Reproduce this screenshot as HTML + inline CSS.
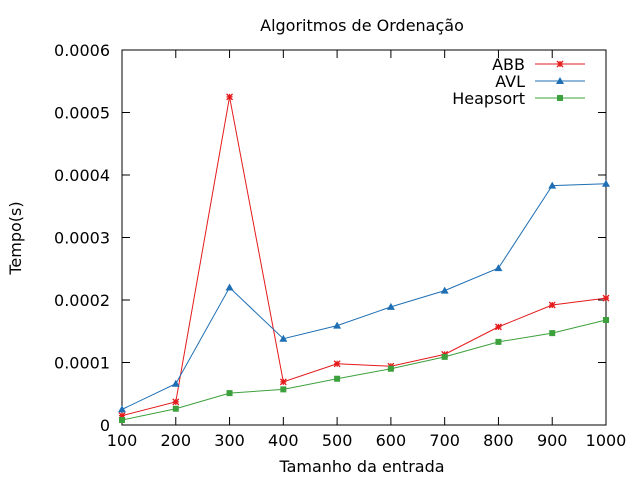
<!DOCTYPE html>
<html><head><meta charset="utf-8"><style>
body{margin:0;background:#fff}
svg{display:block;font-family:"DejaVu Sans","Liberation Sans",sans-serif}
</style></head><body>
<svg id="chart" width="640" height="480">
<text x="362" y="31" font-size="16" text-anchor="middle">Algoritmos de Ordenação</text>
<text x="362" y="472" font-size="16" text-anchor="middle">Tamanho da entrada</text>
<text transform="translate(21,238) rotate(-90)" font-size="16" text-anchor="middle">Tempo(s)</text>
<g id="axes"></g>
<g id="series"></g>
<g id="legend"></g>
</svg>
<script>
const xCats=[100,200,300,400,500,600,700,800,900,1000];
const abb=[0.000015,0.000037,0.000525,0.000069,0.000098,0.000094,0.000113,0.000157,0.000192,0.000203];
const avl=[0.000025,0.000066,0.00022,0.000138,0.000159,0.000189,0.000215,0.000251,0.000383,0.000386];
const heap=[0.000008,0.000026,0.000051,0.000057,0.000074,0.00009,0.000109,0.000133,0.000147,0.000168];
const yTicks=[0,0.0001,0.0002,0.0003,0.0004,0.0005,0.0006];
const yTickLabels=["0","0.0001","0.0002","0.0003","0.0004","0.0005","0.0006"];
const seriesNames=["ABB","AVL","Heapsort"];

const L=122,R=606,T=50,B=425;
const xs=v=>L+(v-100)/900*(R-L);
const ys=v=>B-v/0.0006*(B-T);
const NS="http://www.w3.org/2000/svg";
function mk(tag,attrs,parent){const e=document.createElementNS(NS,tag);for(const k in attrs)e.setAttribute(k,attrs[k]);parent.appendChild(e);return e;}
const ax=document.getElementById('axes');
const fr=mk('rect',{x:L,y:T,width:R-L,height:B-T,fill:'none',stroke:'#000','stroke-width':1},ax);


yTicks.forEach((v,i)=>{
 const y=ys(v);
 mk('line',{x1:L,x2:L+8,y1:y,y2:y,stroke:'#000'},ax);
 mk('line',{x1:R,x2:R-8,y1:y,y2:y,stroke:'#000'},ax);
 const t=mk('text',{x:L-12,y:y+6,'font-size':16,'text-anchor':'end'},ax);
 t.textContent=yTickLabels[i];
 
 
});
xCats.forEach(v=>{
 const x=xs(v);
 mk('line',{x1:x,x2:x,y1:B,y2:B-8,stroke:'#000'},ax);
 mk('line',{x1:x,x2:x,y1:T,y2:T+8,stroke:'#000'},ax);
 const t=mk('text',{x:x,y:B+21,'font-size':16,'text-anchor':'middle'},ax);
 t.textContent=v;
 
 
});
const colors=['#e41a1c','#1f6fb4','#3ca03c'];
const data=[abb,avl,heap];
const sg=document.getElementById('series');
const lg=document.getElementById('legend');
function marker(kind,x,y,c,p){
 if(kind==1){mk('polygon',{points:`${x},${y-4} ${x-4},${y+3} ${x+4},${y+3}`,fill:c},p);}
 else if(kind==2){mk('rect',{x:x-3,y:y-3,width:6,height:6,fill:c},p);}
 else{mk('path',{d:`M${x-3},${y-3}L${x+3},${y+3}M${x-3},${y+3}L${x+3},${y-3}M${x-3},${y}L${x+3},${y}M${x},${y-3}L${x},${y+3}`,stroke:c,'stroke-width':1.3},p);}
}
data.forEach((arr,si)=>{
 const g=mk('g',{},sg);
 
 
 const pts=arr.map((v,i)=>xs(xCats[i])+','+ys(v)).join(' ');
 mk('polyline',{points:pts,fill:'none',stroke:colors[si],'stroke-width':1},g);
 arr.forEach((v,i)=>marker(si,xs(xCats[i]),ys(v),colors[si],g));
 const ly=64+si*17;
 const le=mk('g',{},lg);
 
 
 const t=mk('text',{x:525,y:ly+6,'font-size':16,'text-anchor':'end'},le);
 t.textContent=seriesNames[si];
 mk('line',{x1:535,x2:585,y1:ly,y2:ly,stroke:colors[si]},le);
 marker(si,560,ly,colors[si],le);
});
</script>
</body></html>
